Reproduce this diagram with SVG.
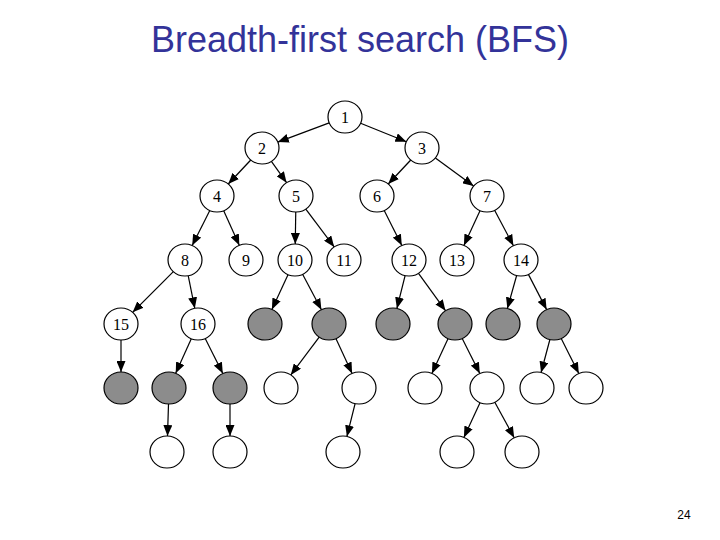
<svg xmlns="http://www.w3.org/2000/svg" width="720" height="540" viewBox="0 0 720 540">
<style>
.n ellipse{fill:#fff;stroke:#000;stroke-width:1.2}
.g ellipse{fill:#8c8c8c;stroke:#000;stroke-width:1.2}
.n text{font-family:"Liberation Serif","Times New Roman",serif;font-size:16px;text-anchor:middle;fill:#000}
#edges line{stroke:#000;stroke-width:1.2;marker-end:url(#ah)}
.title{font-family:"Liberation Sans",Arial,sans-serif;font-size:36px;fill:#333399;text-anchor:middle}
.pg{font-family:"Liberation Sans",Arial,sans-serif;font-size:12px;fill:#000;text-anchor:middle}
</style>
<defs>
<marker id="ah" markerUnits="userSpaceOnUse" markerWidth="11" markerHeight="9" refX="11" refY="4.5" orient="auto">
<path d="M0,0 L11,4.5 L0,9 z" fill="#000"/>
</marker>
</defs>
<rect width="720" height="540" fill="#fff"/>
<text class="title" x="360" y="52">Breadth-first search (BFS)</text>
<text class="pg" x="684" y="519">24</text>
<g id="edges">
<line x1="329.2" y1="122.9" x2="277.8" y2="142.1"/>
<line x1="360.6" y1="123.3" x2="406.4" y2="141.7"/>
<line x1="250.75" y1="160" x2="228.25" y2="184"/>
<line x1="271.4" y1="161.3" x2="286.6" y2="182.7"/>
<line x1="410.75" y1="160" x2="388.25" y2="184"/>
<line x1="435.4" y1="157.9" x2="473.6" y2="186.1"/>
<line x1="209.8" y1="210.5" x2="192.2" y2="245.5"/>
<line x1="223.7" y1="210.7" x2="239.3" y2="245.3"/>
<line x1="295.75" y1="212" x2="295.25" y2="244"/>
<line x1="305.8" y1="209.1" x2="334.2" y2="246.9"/>
<line x1="384.2" y1="210.5" x2="401.8" y2="245.5"/>
<line x1="480.1" y1="210.6" x2="463.9" y2="245.4"/>
<line x1="494.6" y1="210.3" x2="513.4" y2="245.7"/>
<line x1="173.35" y1="271.65" x2="132.65" y2="312.35"/>
<line x1="188.2" y1="275.7" x2="194.8" y2="308.3"/>
<line x1="288.1" y1="274.6" x2="271.9" y2="309.4"/>
<line x1="302.6" y1="274.3" x2="321.4" y2="309.7"/>
<line x1="405.1" y1="275.6" x2="396.9" y2="308.4"/>
<line x1="418.5" y1="273.3" x2="445.5" y2="310.7"/>
<line x1="516.65" y1="275.5" x2="507.35" y2="308.5"/>
<line x1="528.4" y1="274.4" x2="546.6" y2="309.6"/>
<line x1="121" y1="340" x2="121" y2="372"/>
<line x1="191.3" y1="338.7" x2="175.7" y2="373.3"/>
<line x1="205.2" y1="338.5" x2="222.8" y2="373.5"/>
<line x1="319.2" y1="337.1" x2="290.8" y2="374.9"/>
<line x1="335.9" y1="338.6" x2="352.1" y2="373.4"/>
<line x1="448.1" y1="338.6" x2="431.9" y2="373.4"/>
<line x1="462.2" y1="338.5" x2="479.8" y2="373.5"/>
<line x1="549.9" y1="339.5" x2="541.1" y2="372.5"/>
<line x1="561.2" y1="338.5" x2="578.8" y2="373.5"/>
<line x1="168.5" y1="404" x2="167.5" y2="436"/>
<line x1="230" y1="404" x2="230" y2="436"/>
<line x1="355.1" y1="403.6" x2="346.9" y2="436.4"/>
<line x1="480.1" y1="402.6" x2="463.9" y2="437.4"/>
<line x1="494.8" y1="402.2" x2="514.2" y2="437.8"/>
</g>
<g id="n1" class="n"><ellipse cx="345" cy="117" rx="17" ry="16"/><text x="345" y="122.5">1</text></g>
<g id="n2" class="n"><ellipse cx="262" cy="148" rx="17" ry="16"/><text x="262" y="153.5">2</text></g>
<g id="n3" class="n"><ellipse cx="422" cy="148" rx="17" ry="16"/><text x="422" y="153.5">3</text></g>
<g id="n4" class="n"><ellipse cx="217" cy="196" rx="17" ry="16"/><text x="217" y="201.5">4</text></g>
<g id="n5" class="n"><ellipse cx="296" cy="196" rx="17" ry="16"/><text x="296" y="201.5">5</text></g>
<g id="n6" class="n"><ellipse cx="377" cy="196" rx="17" ry="16"/><text x="377" y="201.5">6</text></g>
<g id="n7" class="n"><ellipse cx="487" cy="196" rx="17" ry="16"/><text x="487" y="201.5">7</text></g>
<g id="n8" class="n"><ellipse cx="185" cy="260" rx="17" ry="16"/><text x="185" y="265.5">8</text></g>
<g id="n9" class="n"><ellipse cx="246" cy="260" rx="17" ry="16"/><text x="246" y="265.5">9</text></g>
<g id="n10" class="n"><ellipse cx="295" cy="260" rx="17" ry="16"/><text x="295" y="265.5">10</text></g>
<g id="n11" class="n"><ellipse cx="344" cy="260" rx="17" ry="16"/><text x="344" y="265.5">11</text></g>
<g id="n12" class="n"><ellipse cx="409" cy="260" rx="17" ry="16"/><text x="409" y="265.5">12</text></g>
<g id="n13" class="n"><ellipse cx="457" cy="260" rx="17" ry="16"/><text x="457" y="265.5">13</text></g>
<g id="n14" class="n"><ellipse cx="521" cy="260" rx="17" ry="16"/><text x="521" y="265.5">14</text></g>
<g id="n15" class="n"><ellipse cx="121" cy="324" rx="17" ry="16"/><text x="121" y="329.5">15</text></g>
<g id="n16" class="n"><ellipse cx="198" cy="324" rx="17" ry="16"/><text x="198" y="329.5">16</text></g>
<g id="g1" class="g"><ellipse cx="265" cy="324" rx="17" ry="16"/></g>
<g id="g2" class="g"><ellipse cx="329" cy="324" rx="17" ry="16"/></g>
<g id="g3" class="g"><ellipse cx="393" cy="324" rx="17" ry="16"/></g>
<g id="g4" class="g"><ellipse cx="455" cy="324" rx="17" ry="16"/></g>
<g id="g5" class="g"><ellipse cx="503" cy="324" rx="17" ry="16"/></g>
<g id="g6" class="g"><ellipse cx="554" cy="324" rx="17" ry="16"/></g>
<g id="G1" class="g"><ellipse cx="121" cy="388" rx="17" ry="16"/></g>
<g id="G2" class="g"><ellipse cx="169" cy="388" rx="17" ry="16"/></g>
<g id="G3" class="g"><ellipse cx="230" cy="388" rx="17" ry="16"/></g>
<g id="w1" class="n"><ellipse cx="281" cy="388" rx="17" ry="16"/></g>
<g id="w2" class="n"><ellipse cx="359" cy="388" rx="17" ry="16"/></g>
<g id="w3" class="n"><ellipse cx="425" cy="388" rx="17" ry="16"/></g>
<g id="w4" class="n"><ellipse cx="487" cy="388" rx="17" ry="16"/></g>
<g id="w5" class="n"><ellipse cx="537" cy="388" rx="17" ry="16"/></g>
<g id="w6" class="n"><ellipse cx="586" cy="388" rx="17" ry="16"/></g>
<g id="x1" class="n"><ellipse cx="167" cy="452" rx="17" ry="16"/></g>
<g id="x2" class="n"><ellipse cx="230" cy="452" rx="17" ry="16"/></g>
<g id="x3" class="n"><ellipse cx="343" cy="452" rx="17" ry="16"/></g>
<g id="x4" class="n"><ellipse cx="457" cy="452" rx="17" ry="16"/></g>
<g id="x5" class="n"><ellipse cx="522" cy="452" rx="17" ry="16"/></g>
</svg>
